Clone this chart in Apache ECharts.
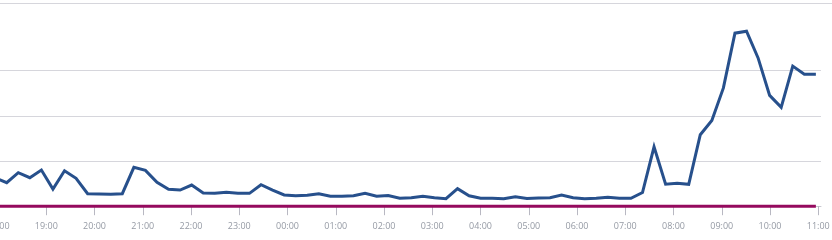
<!DOCTYPE html>
<html>
<head>
<meta charset="utf-8">
<script src="https://cdn.jsdelivr.net/npm/echarts@6/dist/echarts.min.js"></script>
<style>
  html, body { margin: 0; padding: 0; background: #fff; }
  #wrap { position: relative; width: 832px; height: 240px; overflow: hidden; }
  #topRule { position: absolute; left: 0; top: 3px; width: 832px; height: 1px; background: #d6d6dc; }
  #chart { position: absolute; left: 0; top: 0; width: 832px; height: 240px; }
</style>
</head>
<body>
<div id="wrap">
  <div id="topRule"></div>
  <div id="chart"></div>
</div>
<script>
// Time is in minutes after 18:00 (day 1). Samples every ~14.4 minutes.
const firstSampleMinute = -3.6;
const sampleStepMinutes = 14.375;

// Blue series values (one per sample)
const seriesValues = [6.24, 5.20, 7.41, 6.30, 8.01, 3.80, 7.85, 6.17, 2.77, 2.70, 2.63, 2.77,
  8.60, 7.94, 5.29, 3.74, 3.58, 4.69, 2.92, 2.85, 3.07, 2.85, 2.85, 4.76, 3.58, 2.48, 2.32,
  2.41, 2.77, 2.19, 2.19, 2.32, 2.85, 2.19, 2.37, 1.75, 1.88, 2.19, 1.88, 1.66, 3.87, 2.32,
  1.75, 1.75, 1.66, 2.10, 1.70, 1.81, 1.88, 2.48, 1.88, 1.66, 1.75, 1.97, 1.75, 1.75, 3.03,
  13.16, 4.87, 5.07, 4.84, 15.82, 19.00, 26.19, 38.31, 38.75, 32.83, 24.53, 21.88, 31.01,
  29.24, 29.24];

// Baseline (threshold) series: two end points at value 0
const baselineValues = [0, 0];

// Hour tick labels (minutes after 18:00)
const tickMinutes = [0, 60, 120, 180, 240, 300, 360, 420, 480, 540, 600, 660, 720, 780, 840, 900, 960, 1020];

const sampleMinutes = seriesValues.map((_, i) => firstSampleMinute + i * sampleStepMinutes);
const blueData = seriesValues.map((v, i) => [sampleMinutes[i], v]);
const baseData = [[sampleMinutes[0], baselineValues[0]], [sampleMinutes[sampleMinutes.length - 1], baselineValues[1]]];

function fmt(m) {
  const h = (18 + Math.floor(m / 60)) % 24;
  const mm = Math.round(m % 60);
  return String(h).padStart(2, '0') + ':' + String(mm).padStart(2, '0');
}

const chart = echarts.init(document.getElementById('chart'), null, { renderer: 'canvas' });
chart.setOption({
  animation: false,
  grid: { left: -1.95, right: 11, top: 70.7, bottom: 33.8, containLabel: false, outerBoundsMode: 'none' },
  xAxis: {
    type: 'value',
    min: 0,
    max: 1023.4,
    splitLine: { show: false },
    axisLine: { show: true, lineStyle: { color: '#c8c8d0', width: 1 } },
    axisTick: { show: true, customValues: tickMinutes, length: 9, lineStyle: { color: '#b8b8c2', width: 1 } },
    axisLabel: {
      customValues: tickMinutes,
      showMinLabel: true,
      showMaxLabel: true,
      hideOverlap: false,
      formatter: fmt,
      color: '#959aa4',
      fontSize: 9,
      fontFamily: 'Open Sans',
      margin: 16
    }
  },
  yAxis: {
    type: 'value',
    min: 0,
    max: 30,
    interval: 10,
    axisLabel: { show: false },
    axisLine: { show: false },
    axisTick: { show: false },
    splitLine: { show: true, lineStyle: { color: '#d6d6dc', width: 1 } }
  },
  series: [
    {
      type: 'line',
      data: baseData,
      symbol: 'none',
      clip: false,
      lineStyle: { color: '#950a5e', width: 3 },
      z: 3
    },
    {
      type: 'line',
      data: blueData,
      symbol: 'none',
      clip: false,
      lineStyle: { color: '#27508c', width: 3, join: 'miter' },
      z: 4
    }
  ]
});
</script>
</body>
</html>
